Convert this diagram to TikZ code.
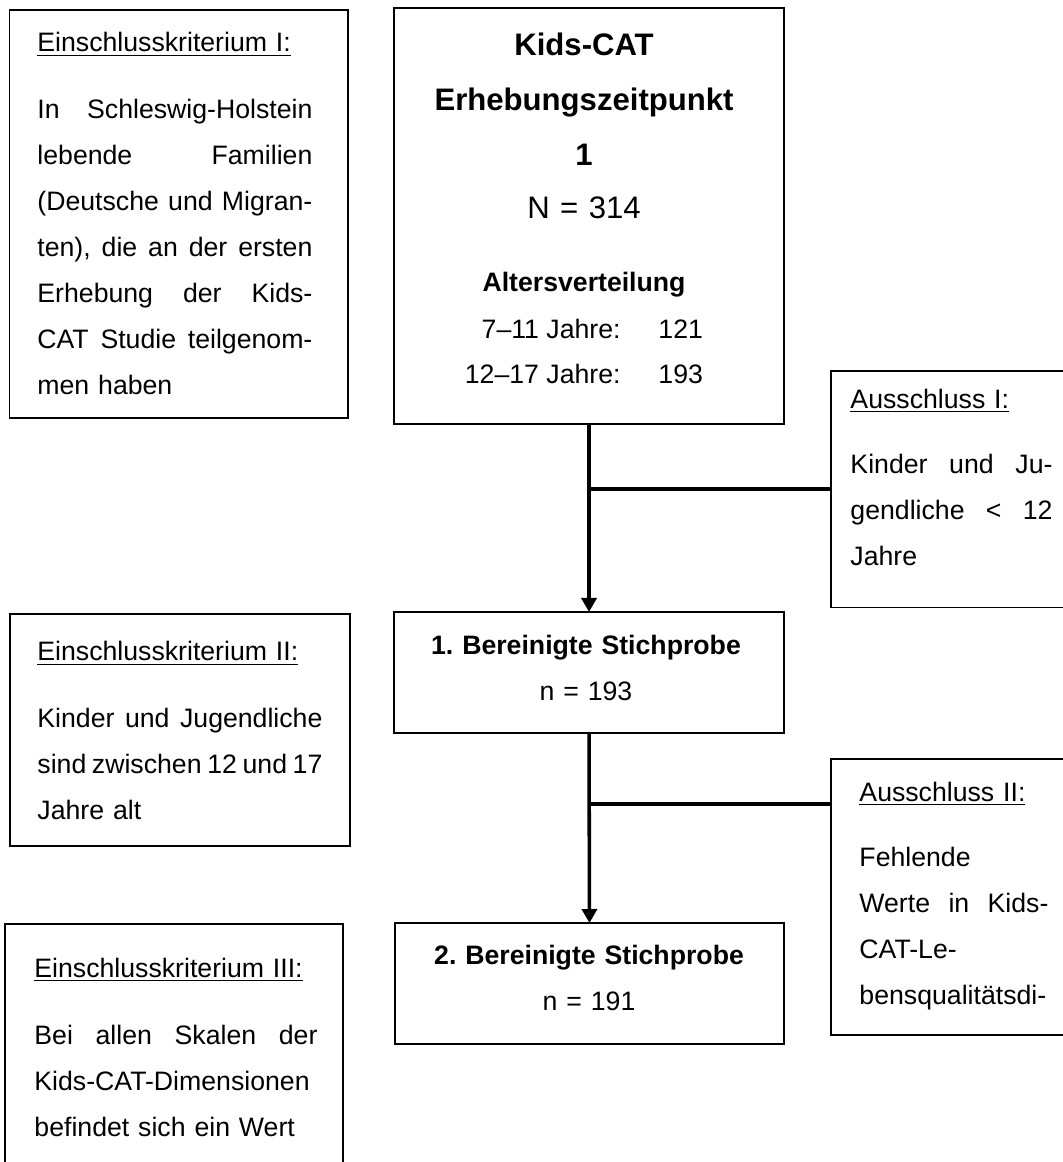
\documentclass[tikz,border=0pt]{standalone}
\usepackage{fontspec}
\setmainfont{Liberation Sans}
\usetikzlibrary{arrows.meta, calc}
% one justified line of a Word text box
\newcommand{\jline}[1]{\leavevmode\hbox to \hsize{\spaceskip=0.278em plus 1fil minus 0.09em\relax #1}}

\begin{document}
\frenchspacing
\begin{tikzpicture}[
    box/.style={draw, line width=0.75pt, inner sep=0pt, outer sep=0pt, anchor=north west},
    thinbox/.style={box, line width=0.5pt},
    bodytxt/.style={inner sep=0pt, anchor=base west, align=left,
        font=\fontsize{12}{20.7}\selectfont},
    headtxt/.style={inner sep=0pt, anchor=base, align=center, text width=6.168cm,
        font=\fontsize{12}{20.7}\selectfont},
    lbl/.style={inner sep=0pt, font=\fontsize{12}{20.7}\selectfont},
    flow/.style={line width=1.6pt, -{Triangle[length=6.3pt, width=6.75pt]}},
    branch/.style={line width=1.6pt}
]
\useasboundingbox (0,0) rectangle (16.797,-18.378);

% =============================================
% Boxes
% =============================================
\node[box, minimum width=5.354cm, minimum height=6.453cm] (incl1) at (0.150,-0.158) {};
\node[box, minimum width=6.168cm, minimum height=6.579cm] (wave1) at (6.232,-0.127) {};
\node[thinbox, minimum width=3.954cm, minimum height=3.733cm] (excl1) at (13.143,-5.868) {};
\node[box, minimum width=6.168cm, minimum height=1.914cm] (sample1) at (6.232,-9.679) {};
\node[box, minimum width=5.377cm, minimum height=3.669cm] (incl2) at (0.158,-9.711) {};
\node[thinbox, minimum width=3.954cm, minimum height=4.365cm] (excl2) at (13.143,-12.004) {};
\node[box, minimum width=6.152cm, minimum height=1.914cm] (sample2) at (6.247,-14.598) {};
\node[box, minimum width=5.346cm, minimum height=4.112cm] (incl3) at (0.079,-14.614) {};

% =============================================
% Middle column
% =============================================
\node[headtxt, font=\fontsize{14}{24.75}\selectfont\bfseries] (wave1txt) at (9.237,-0.870)
    {Kids-CAT\\Erhebungszeitpunkt\\1\\[-0.9pt]\mdseries N = 314};
\node[headtxt, font=\fontsize{12}{20.7}\selectfont\bfseries] (agehead) at (9.237,-4.618) {Altersverteilung};
\node[lbl, anchor=base east] (agelbl1) at (9.822,-5.346) {7–11 Jahre:};
\node[lbl, anchor=base west] (agenum1) at (10.407,-5.346) {121};
\node[lbl, anchor=base east] (agelbl2) at (9.822,-6.058) {12–17 Jahre:};
\node[lbl, anchor=base west] (agenum2) at (10.407,-6.058) {193};

\node[headtxt] (sample1txt) at (9.268,-10.344) {\textbf{1. Bereinigte Stichprobe}\\n = 193};
\node[headtxt] (sample2txt) at (9.316,-15.262) {\textbf{2. Bereinigte Stichprobe}\\n = 191};

% =============================================
% Left: inclusion criteria
% =============================================
\node[bodytxt, text width=4.349cm] (incl1txt) at (0.585,-0.822) {%
    \underline{Einschlusskriterium I:}\\[9.45pt]
    \jline{In Schleswig-Holstein}\\
    \jline{lebende Familien}\\
    \jline{(Deutsche und Migran-}\\
    \jline{ten), die an der ersten}\\
    \jline{Erhebung der Kids-}\\
    \jline{CAT Studie teilgenom-}\\
    men haben};

\node[bodytxt, text width=4.508cm] (incl2txt) at (0.585,-10.454) {%
    \underline{Einschlusskriterium II:}\\[9.45pt]
    \jline{Kinder und Jugendliche}\\
    \jline{sind zwischen 12 und 17}\\
    Jahre alt};

\node[bodytxt, text width=4.476cm] (incl3txt) at (0.538,-15.452) {%
    \underline{Einschlusskriterium III:}\\[9.45pt]
    \jline{Bei allen Skalen der}\\
    Kids-CAT-Dimensionen\\
    befindet sich ein Wert};

% =============================================
% Right: exclusions
% =============================================
\node[bodytxt, text width=3.195cm] (excl1txt) at (13.444,-6.453) {%
    \underline{Ausschluss I:}\\[8.55pt]
    \jline{Kinder und Ju-}\\
    \jline{gendliche < 12}\\
    Jahre};

\node[bodytxt, text width=2.989cm] (excl2txt) at (13.586,-12.669) {%
    \underline{Ausschluss II:}\\[8.55pt]
    Fehlende\\
    \jline{Werte in Kids-}\\
    CAT-Le-\\
    bensqualitätsdi-};

% =============================================
% Connectors
% =============================================
\draw[flow] (wave1.south) -- (sample1.north);
\draw[branch] (excl1.west) -- (excl1.west -| wave1.south);

\draw[flow] (sample1.south) -- (sample2.north);
\coordinate (join2) at ($(excl2.north west)+(0,-0.712)$);
\draw[branch] (join2) -- (join2 -| sample1.south);

\end{tikzpicture}
\end{document}
